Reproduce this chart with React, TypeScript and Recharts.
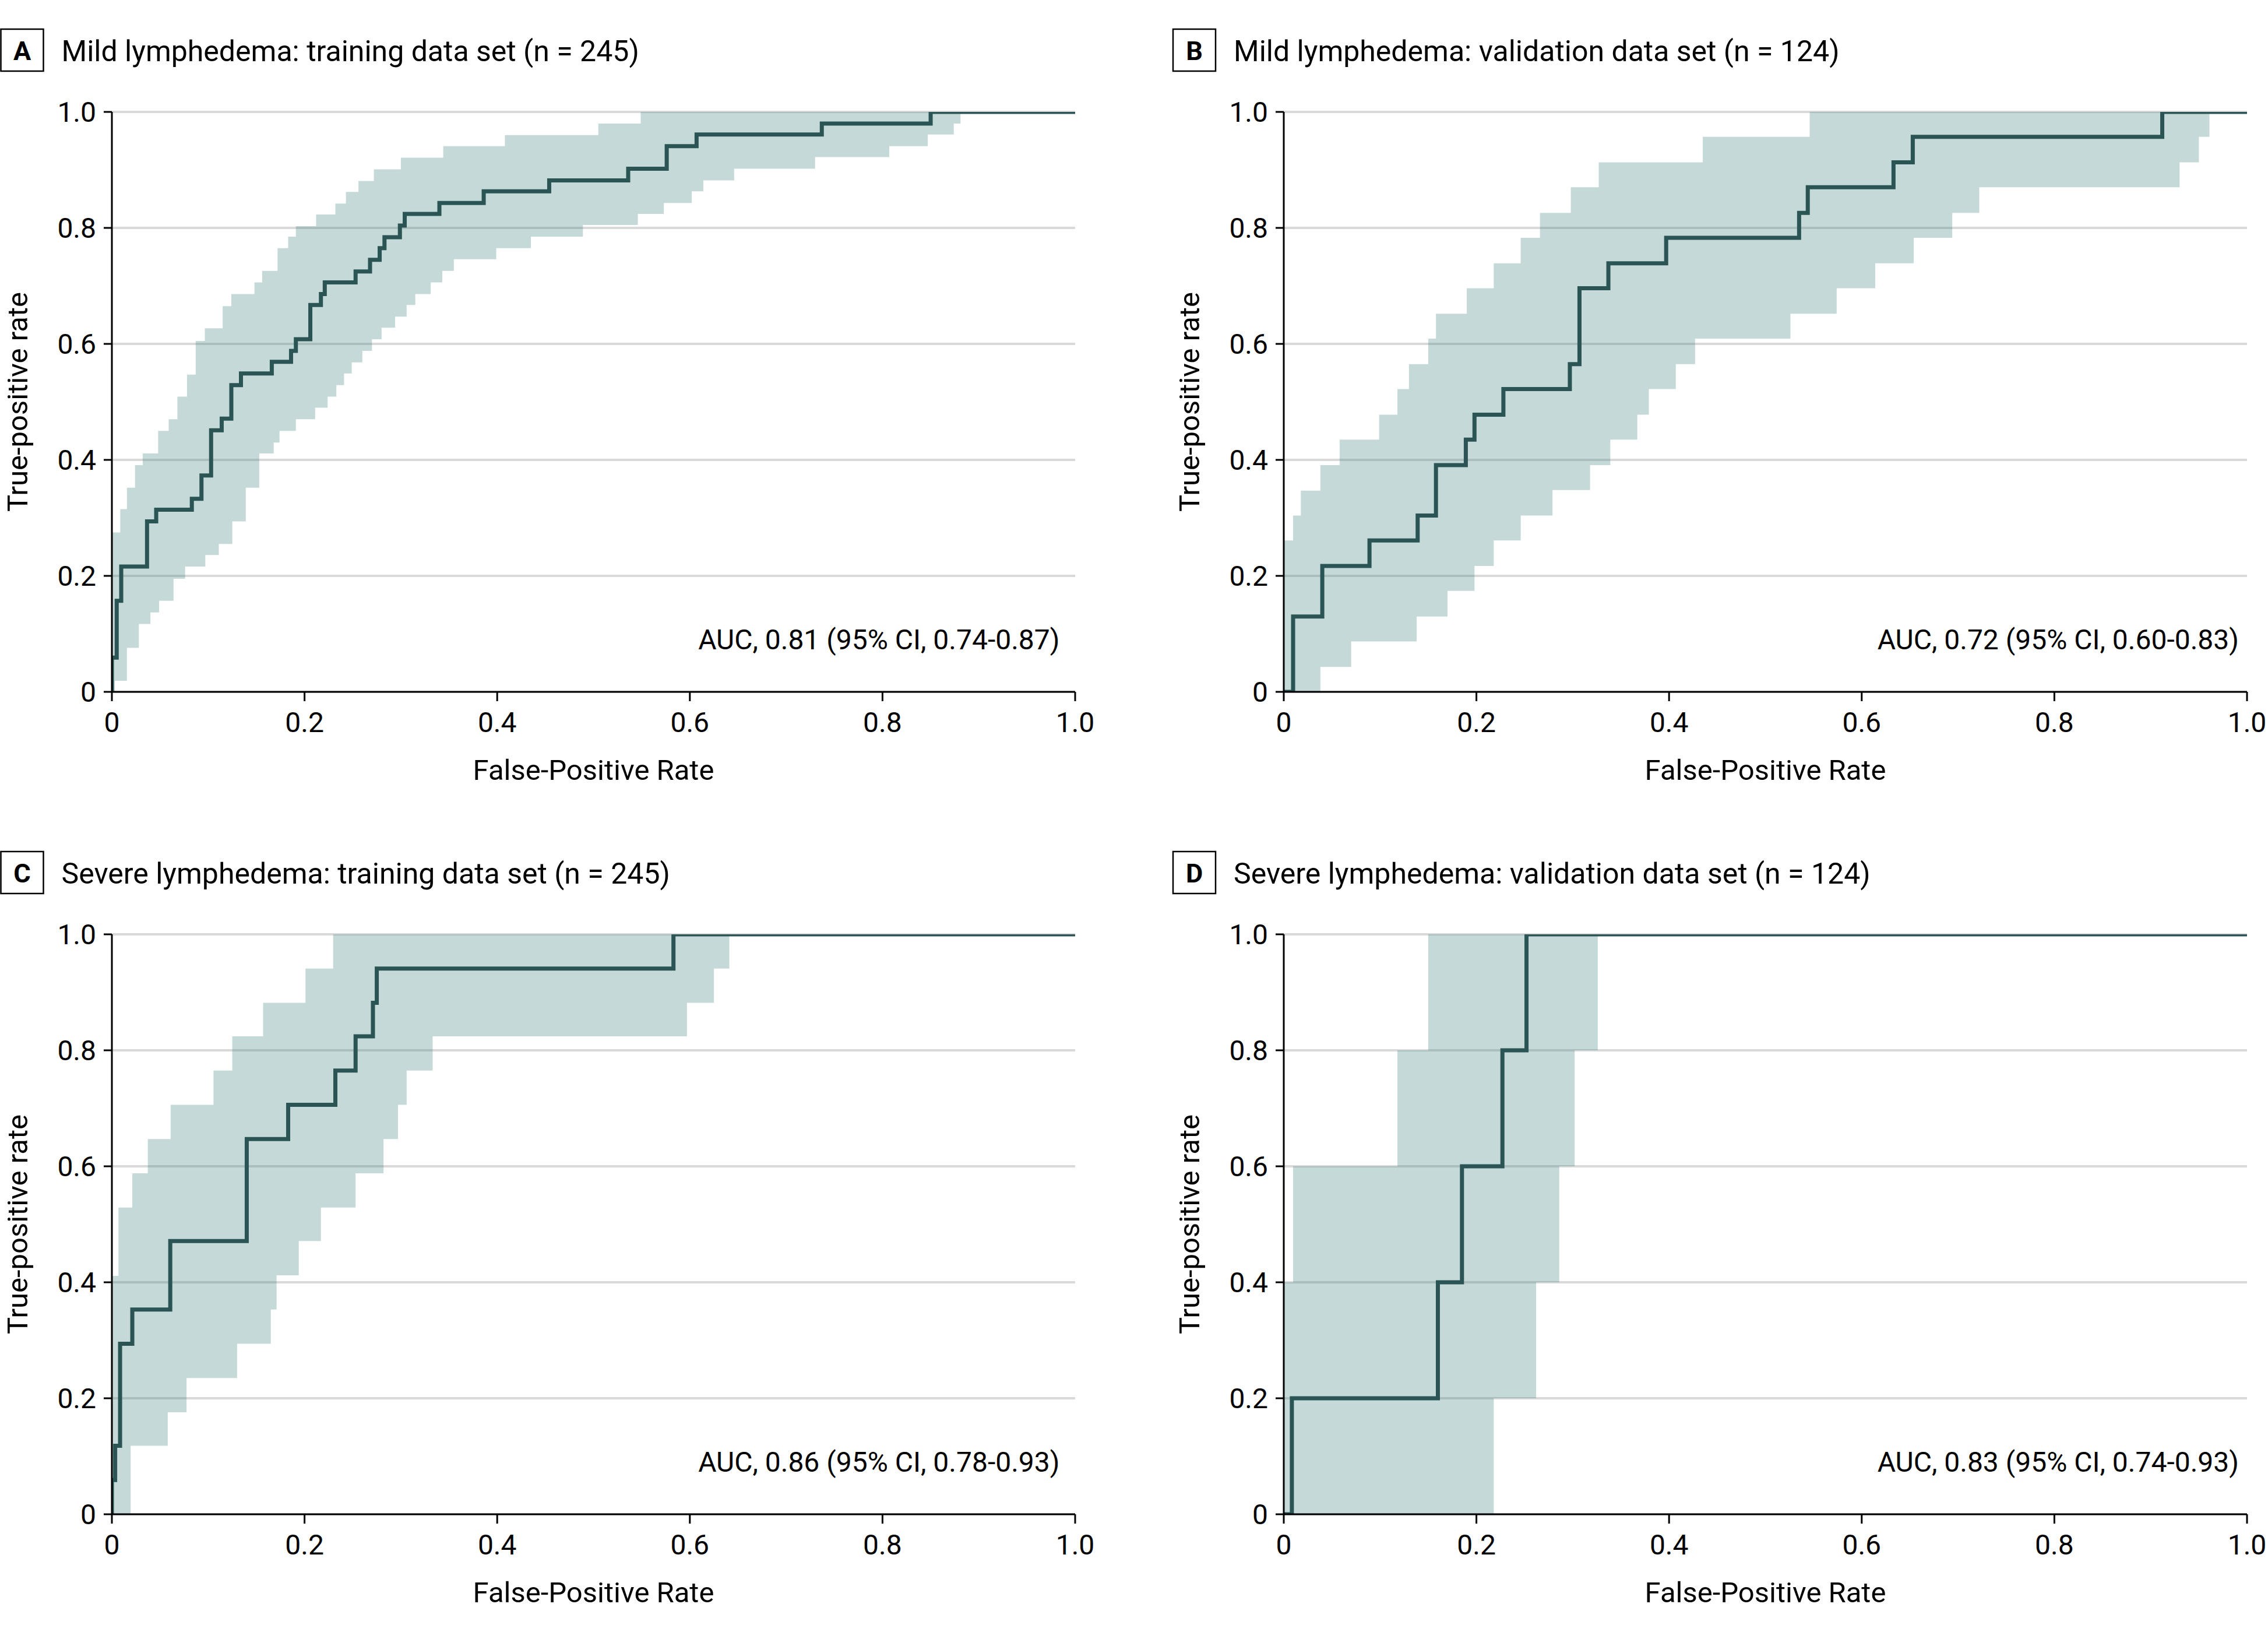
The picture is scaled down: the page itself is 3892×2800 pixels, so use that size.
import React from 'react';
import { ComposedChart, Area, Line, XAxis, YAxis, CartesianGrid } from 'recharts';

// ---------- data (FPR, TPR) ----------
const AXIS_TICKS = [0, 0.2, 0.4, 0.6, 0.8, 1.0];

const PANEL_LETTERS = ['A', 'B', 'C', 'D'];
const PANEL_TITLES = [
  'Mild lymphedema: training data set (n = 245)',
  'Mild lymphedema: validation data set (n = 124)',
  'Severe lymphedema: training data set (n = 245)',
  'Severe lymphedema: validation data set (n = 124)',
];
const AUC_TEXTS = [
  'AUC, 0.81 (95% CI, 0.74-0.87)',
  'AUC, 0.72 (95% CI, 0.60-0.83)',
  'AUC, 0.86 (95% CI, 0.78-0.93)',
  'AUC, 0.83 (95% CI, 0.74-0.93)',
];

const A_ROC: [number, number][] = [
  [0, 0], [0, 0.059], [0.005, 0.157], [0.0097, 0.216], [0.0365, 0.294], [0.046, 0.314],
  [0.083, 0.333], [0.093, 0.373], [0.103, 0.451], [0.114, 0.471], [0.124, 0.529],
  [0.134, 0.549], [0.166, 0.569], [0.186, 0.588], [0.191, 0.608], [0.206, 0.667],
  [0.217, 0.686], [0.221, 0.706], [0.253, 0.725], [0.268, 0.745], [0.278, 0.765],
  [0.283, 0.784], [0.299, 0.804], [0.304, 0.824], [0.34, 0.843], [0.386, 0.863],
  [0.454, 0.882], [0.536, 0.902], [0.576, 0.941], [0.607, 0.961], [0.737, 0.98],
  [0.85, 1.0], [1, 1],
];
const A_UPPER: [number, number][] = [
  [0, 0.275], [0.0087, 0.315], [0.0156, 0.352], [0.024, 0.391], [0.032, 0.411],
  [0.048, 0.45], [0.059, 0.47], [0.068, 0.509], [0.078, 0.547], [0.087, 0.605],
  [0.0965, 0.627], [0.115, 0.665], [0.124, 0.686], [0.148, 0.706], [0.156, 0.726],
  [0.172, 0.765], [0.183, 0.785], [0.191, 0.803], [0.212, 0.823], [0.232, 0.842],
  [0.243, 0.862], [0.256, 0.881], [0.272, 0.901], [0.3, 0.921], [0.344, 0.941],
  [0.408, 0.96], [0.505, 0.98], [0.549, 1.0],
];
const A_LOWER: [number, number][] = [
  [0, 0], [0.003, 0.019], [0.0156, 0.076], [0.028, 0.117], [0.04, 0.137], [0.049, 0.157],
  [0.064, 0.195], [0.076, 0.216], [0.097, 0.236], [0.111, 0.255], [0.125, 0.294],
  [0.139, 0.352], [0.153, 0.411], [0.168, 0.43], [0.174, 0.45], [0.191, 0.47],
  [0.211, 0.49], [0.224, 0.509], [0.233, 0.529], [0.241, 0.549], [0.249, 0.568],
  [0.26, 0.588], [0.27, 0.608], [0.28, 0.628], [0.294, 0.647], [0.306, 0.667],
  [0.315, 0.686], [0.331, 0.706], [0.343, 0.726], [0.355, 0.746], [0.399, 0.765],
  [0.435, 0.785], [0.489, 0.805], [0.546, 0.824], [0.573, 0.843], [0.602, 0.863],
  [0.614, 0.882], [0.646, 0.902], [0.73, 0.922], [0.807, 0.941], [0.847, 0.961],
  [0.874, 0.98], [0.881, 1.0],
];

const B_ROC: [number, number][] = [
  [0, 0], [0.0097, 0.13], [0.04, 0.217], [0.089, 0.261], [0.139, 0.304], [0.158, 0.391],
  [0.189, 0.435], [0.198, 0.478], [0.228, 0.522], [0.297, 0.565], [0.307, 0.696],
  [0.337, 0.739], [0.397, 0.783], [0.535, 0.826], [0.544, 0.87], [0.633, 0.913],
  [0.653, 0.957], [0.912, 1.0], [1, 1],
];
const B_UPPER: [number, number][] = [
  [0, 0.261], [0.0097, 0.304], [0.0177, 0.347], [0.038, 0.391], [0.058, 0.435],
  [0.099, 0.478], [0.118, 0.522], [0.13, 0.565], [0.15, 0.609], [0.158, 0.652],
  [0.19, 0.696], [0.218, 0.739], [0.246, 0.783], [0.266, 0.826], [0.298, 0.87],
  [0.327, 0.913], [0.435, 0.957], [0.546, 1.0],
];
const B_LOWER: [number, number][] = [
  [0, 0], [0.038, 0.043], [0.07, 0.087], [0.138, 0.13], [0.17, 0.174], [0.198, 0.217],
  [0.218, 0.261], [0.246, 0.304], [0.279, 0.348], [0.318, 0.391], [0.339, 0.435],
  [0.367, 0.478], [0.379, 0.522], [0.407, 0.565], [0.427, 0.609], [0.526, 0.652],
  [0.574, 0.696], [0.614, 0.739], [0.654, 0.783], [0.694, 0.826], [0.722, 0.87],
  [0.93, 0.913], [0.95, 0.957], [0.961, 1.0],
];

const C_ROC: [number, number][] = [
  [0, 0], [0, 0.059], [0.0034, 0.118], [0.0085, 0.294], [0.0212, 0.353], [0.0606, 0.471],
  [0.14, 0.647], [0.183, 0.706], [0.232, 0.765], [0.253, 0.824], [0.271, 0.882],
  [0.275, 0.941], [0.583, 1.0], [1, 1],
];
const C_UPPER: [number, number][] = [
  [0, 0.411], [0.0068, 0.529], [0.0212, 0.588], [0.0373, 0.647], [0.061, 0.706],
  [0.1055, 0.765], [0.125, 0.824], [0.157, 0.882], [0.201, 0.941], [0.2297, 1.0],
];
const C_LOWER: [number, number][] = [
  [0, 0], [0.0195, 0.118], [0.058, 0.176], [0.0775, 0.235], [0.13, 0.294], [0.165, 0.353],
  [0.171, 0.412], [0.194, 0.471], [0.217, 0.529], [0.253, 0.588], [0.282, 0.647],
  [0.297, 0.706], [0.306, 0.765], [0.333, 0.824], [0.597, 0.882], [0.625, 0.941],
  [0.641, 1.0],
];

const D_ROC: [number, number][] = [
  [0, 0], [0.0084, 0.2], [0.16, 0.4], [0.185, 0.6], [0.227, 0.8], [0.252, 1.0], [1, 1],
];
const D_UPPER: [number, number][] = [[0, 0.4], [0.0097, 0.6], [0.118, 0.8], [0.15, 1.0]];
const D_LOWER: [number, number][] = [
  [0, 0], [0.218, 0.2], [0.262, 0.4], [0.286, 0.6], [0.302, 0.8], [0.326, 1.0],
];

// ---------- helpers ----------
const stepAt = (steps: [number, number][], x: number) => {
  let v = steps[0][1];
  for (const [sx, sy] of steps) {
    if (sx <= x + 1e-12) v = sy;
    else break;
  }
  return v;
};
const buildBand = (upper: [number, number][], lower: [number, number][]) => {
  const xs = Array.from(new Set([...upper.map((p) => p[0]), ...lower.map((p) => p[0]), 1])).sort(
    (a, b) => a - b,
  );
  return xs.map((x) => ({ x, band: [stepAt(lower, x), stepAt(upper, x)] }));
};
const buildRoc = (roc: [number, number][]) => roc.map(([x, y]) => ({ x, y }));
const fmt = (v: number) => (v === 0 ? '0' : v.toFixed(1));

// ---------- layout ----------
const FONT = 'Roboto, "Noto Sans", sans-serif';
const PW = 1653;
const PH = 995;
const YW = 324;
const XH = 160;
const MT = 40;
const MR = 40;
const MB = 10;
const PLOT_LEFTS = [191.5, 2203, 191.5, 2203];
const PLOT_TOPS = [192, 192, 1603, 1603];
const AUC_RIGHT_GAP = [26, 14, 26, 14];

const LINE_COLOR = '#2a5554';
const BAND_COLOR = '#3e8080';

const PANELS = [
  { roc: A_ROC, upper: A_UPPER, lower: A_LOWER },
  { roc: B_ROC, upper: B_UPPER, lower: B_LOWER },
  { roc: C_ROC, upper: C_UPPER, lower: C_LOWER },
  { roc: D_ROC, upper: D_UPPER, lower: D_LOWER },
];

const tickStyle = { fontSize: 48, fill: '#000', fontFamily: FONT };

function Panel({ idx }: { idx: number }) {
  const p = PANELS[idx];
  const band = buildBand(p.upper, p.lower);
  const roc = buildRoc(p.roc);
  const left = PLOT_LEFTS[idx] - YW;
  const top = PLOT_TOPS[idx] - MT;
  return (
    <div style={{ position: 'absolute', left, top }}>
      <ComposedChart
        width={YW + PW + MR}
        height={MT + PH + XH + MB}
        data={band}
        margin={{ top: MT, right: MR, bottom: MB, left: 0 }}
      >
        <CartesianGrid vertical={false} stroke="#d9d9d9" strokeWidth={4} />
        <XAxis
          type="number"
          dataKey="x"
          domain={[0, 1]}
          ticks={AXIS_TICKS}
          tickFormatter={fmt}
          allowDataOverflow
          height={XH}
          tickSize={16}
          tickMargin={19}
          tick={tickStyle}
          axisLine={{ stroke: '#000', strokeWidth: 3 }}
          tickLine={{ stroke: '#000', strokeWidth: 3 }}
          label={{
            value: 'False-Positive Rate',
            position: 'insideBottom',
            offset: 9,
            fontSize: 49,
            fill: '#000',
            fontFamily: FONT,
          }}
        />
        <YAxis
          type="number"
          domain={[0, 1]}
          ticks={AXIS_TICKS}
          tickFormatter={fmt}
          allowDataOverflow
          width={YW}
          tickSize={14}
          tickMargin={13}
          tick={tickStyle}
          axisLine={{ stroke: '#000', strokeWidth: 3 }}
          tickLine={{ stroke: '#000', strokeWidth: 3 }}
          label={{
            value: 'True-positive rate',
            angle: -90,
            position: 'center',
            fontSize: 49,
            fill: '#000',
            fontFamily: FONT,
          }}
        />
        <Area
          type="stepAfter"
          dataKey="band"
          stroke="none"
          fill={BAND_COLOR}
          fillOpacity={0.3}
          isAnimationActive={false}
          activeDot={false}
        />
        <Line
          type="stepAfter"
          data={roc}
          dataKey="y"
          stroke={LINE_COLOR}
          strokeWidth={7}
          dot={false}
          activeDot={false}
          isAnimationActive={false}
        />
      </ComposedChart>
    </div>
  );
}

export default function App() {
  return (
    <div
      style={{
        position: 'absolute',
        left: 0,
        top: 0,
        width: 3892,
        height: 2800,
        background: '#fff',
        fontFamily: FONT,
      }}
    >
      {PANELS.map((_, i) => (
        <Panel key={i} idx={i} />
      ))}
      <svg
        width={3892}
        height={2800}
        style={{ position: 'absolute', left: 0, top: 0, pointerEvents: 'none' }}
      >
        {PANEL_LETTERS.map((letter, i) => {
          const plotLeft = PLOT_LEFTS[i];
          const plotTop = PLOT_TOPS[i];
          const boxX = plotLeft - 190;
          const boxY = plotTop - 142;
          return (
            <g key={letter} fontFamily={FONT}>
              <rect x={boxX} y={boxY} width={73} height={72} fill="none" stroke="#000" strokeWidth={2.5} />
              <text x={boxX + 36.5} y={boxY + 53} textAnchor="middle" fontSize={45} fontWeight={700} fill="#000">
                {letter}
              </text>
              <text x={plotLeft - 86} y={plotTop - 87} fontSize={50} fill="#000">
                {PANEL_TITLES[i]}
              </text>
              <text
                x={plotLeft + PW - AUC_RIGHT_GAP[i]}
                y={plotTop + PH - 73}
                textAnchor="end"
                fontSize={48}
                fill="#000"
              >
                {AUC_TEXTS[i]}
              </text>
            </g>
          );
        })}
      </svg>
    </div>
  );
}
